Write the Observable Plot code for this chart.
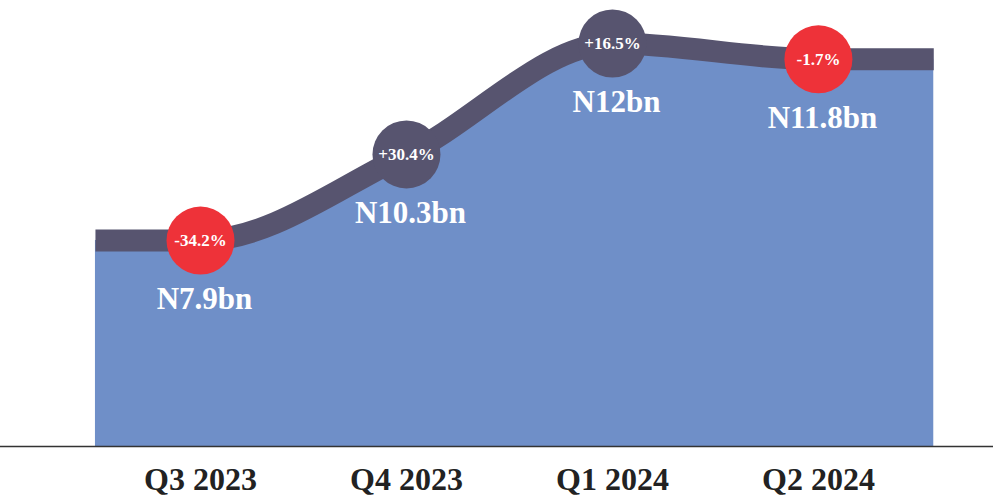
<!DOCTYPE html>
<html><head><meta charset="utf-8">
<script src="https://cdn.jsdelivr.net/npm/d3@7"></script>
<script src="https://cdn.jsdelivr.net/npm/@observablehq/plot@0.6"></script>
<style>body{margin:0;background:#fff;}</style>
</head><body><div id="chart"></div>
<script>
const quarters = ["Q3 2023", "Q4 2023", "Q1 2024", "Q2 2024"];
const values = [7.9, 10.3, 12, 11.8];      // N billion
const changes = [-34.2, 30.4, 16.5, -1.7];  // % change

const idx = quarters.map((q, i) => i);
const points = quarters.map((q, i) => ({i, q, v: values[i], c: changes[i]}));
const edgeLeft = -0.51, edgeRight = 3.56;
const series = [{i: edgeLeft, v: values[0]}, ...points, {i: edgeRight, v: values[values.length - 1]}];
const yMin = -10.82, yMax = 12.5;

const chart = Plot.plot({
  width: 993, height: 500,
  marginTop: 0, marginLeft: 0, marginRight: 0, marginBottom: 54,
  x: {domain: [-0.971, 3.85], ticks: idx, tickFormat: i => quarters[i], tickSize: 0, tickPadding: 21, label: null},
  y: {type: "pow", exponent: 4, domain: [yMin, yMax], axis: null},
  style: {fontFamily: "'Liberation Serif', serif", fontSize: "32px", fontWeight: "bold", color: "#222", background: "#fff", overflow: "visible"},
  marks: [
    Plot.areaY(series, {x: "i", y1: yMin, y2: "v", curve: "monotone-x", fill: "#6f8fc8"}),
    Plot.ruleY([yMin], {stroke: "#333", strokeWidth: 1.5}),
    Plot.line(series, {x: "i", y: "v", curve: "monotone-x", stroke: "#57546f", strokeWidth: 22, strokeLinecap: "butt"}),
    Plot.dot(points, {x: "i", y: "v", r: 34, fill: d => d.c < 0 ? "#ee3239" : "#57546f"}),
    Plot.text(points, {x: "i", y: "v", text: d => (d.c > 0 ? "+" : "") + d.c + "%", fill: "white", fontSize: 17, fontWeight: "bold"}),
    Plot.text(points, {x: "i", y: "v", dy: 59, dx: 4, text: d => `N${d.v}bn`, fill: "white", fontSize: 31, fontWeight: "bold"})
  ]
});
document.getElementById("chart").append(chart);
</script>
</body></html>
